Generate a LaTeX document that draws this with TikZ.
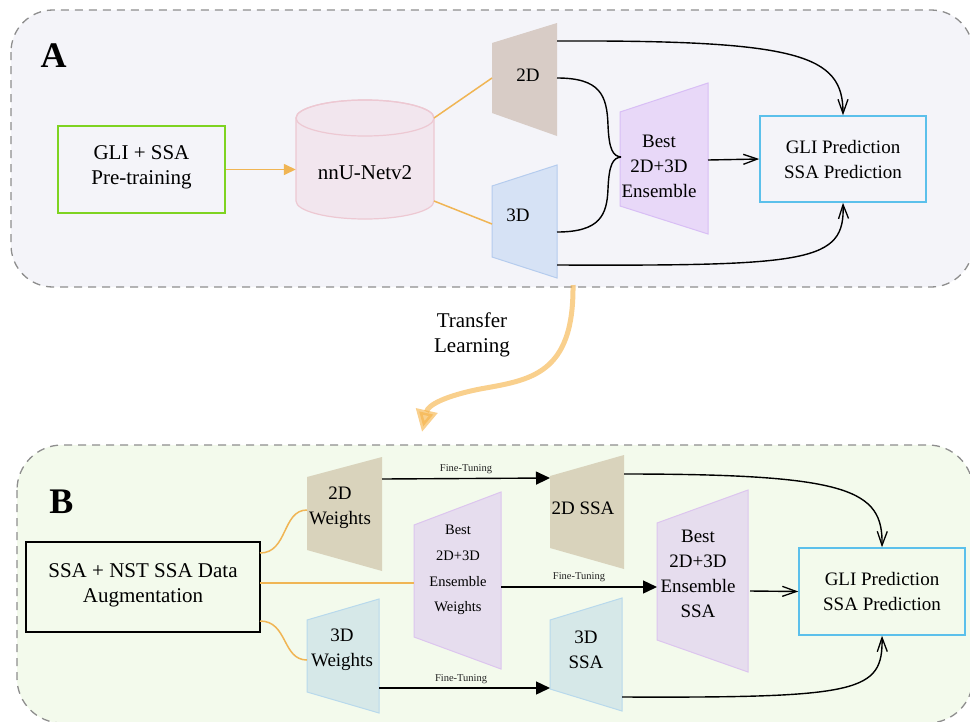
\documentclass[tikz,border=0pt]{standalone}
\usepackage{fontspec}
\setmainfont{Liberation Serif}
\usetikzlibrary{arrows.meta}
\definecolor{panA}{HTML}{F4F4F9}
\definecolor{panB}{HTML}{F3FAEC}
\definecolor{dashgrey}{HTML}{8E8E8E}
\definecolor{greenb}{HTML}{7ED321}
\definecolor{predb}{HTML}{5BC0EB}
\definecolor{orangel}{HTML}{F0B554}
\definecolor{cylf}{HTML}{F2E6EE}
\definecolor{cyld}{HTML}{EDC8D2}
\definecolor{atwof}{HTML}{D8CCC6}
\definecolor{athreef}{HTML}{D6E2F5}
\definecolor{athreed}{HTML}{B5CCEE}
\definecolor{aensf}{HTML}{E8D8F8}
\definecolor{aensd}{HTML}{D8BEF5}
\definecolor{btwof}{HTML}{D9D3BC}
\definecolor{bthreef}{HTML}{D6E8E8}
\definecolor{bthreed}{HTML}{B8D9EC}
\definecolor{bensf}{HTML}{E6DDEE}
\definecolor{bensd}{HTML}{DCC5EE}
\definecolor{transo}{HTML}{F5B041}
\tikzset{
  panel/.style={draw=dashgrey, line width=1.3pt, dash pattern=on 8pt off 6pt},
  lbl/.style={font=\fontsize{19}{25}\selectfont, align=center, text=black, inner sep=0pt},
  biglbl/.style={font=\fontsize{21}{25}\selectfont, align=center, text=black, inner sep=0pt},
  smalllbl/.style={font=\fontsize{10.5}{12}\selectfont, text=black!85, inner sep=0pt},
  enslbl/.style={font=\fontsize{14.5}{25.7}\selectfont, align=center, text=black, inner sep=0pt},
  panellbl/.style={font=\fontsize{36}{40}\selectfont\bfseries, inner sep=0pt},
  conn/.style={draw=black, line width=1.4pt, -{Straight Barb[length=14pt,width=10pt,line width=1.3pt]}},
  ftconn/.style={draw=black, line width=1.4pt, -{Triangle[length=14pt,width=13pt]}},
  brace/.style={draw=black, line width=1.4pt},
  orng/.style={draw=orangel, line width=1.5pt},
}
\begin{document}
\begin{tikzpicture}[x=1pt,y=-1pt]
\useasboundingbox (0,0) rectangle (970,721);
% panels
\path[panel, fill=panA, rounded corners=42pt] (11,10) rectangle (973,287);
\path[panel, fill=panB, rounded corners=45pt] (17,445) rectangle (973,723);
\node[panellbl] (la) at (53.5,56) {A};
\node[panellbl] (lb) at (61.5,501.5) {B};

% ---------- Panel A ----------
\node[draw=greenb, line width=1.5pt, minimum width=167pt, minimum height=87pt, inner sep=0pt] (gli) at (141.5,169.5) {};
\node[biglbl] (glit) at (141.5,167.5) {GLI + SSA\\Pre-training};

% cylinder
\path[fill=cylf, draw=cyld, line width=1.2pt] (296,118) -- (296,201) arc[start angle=180, end angle=0, x radius=69, y radius=18] -- (434,118) arc[start angle=0, end angle=-180, x radius=69, y radius=18] -- cycle;
\draw[cyld, line width=1.2pt] (365,118) ellipse[x radius=69, y radius=18];
\node[minimum width=138pt, minimum height=119pt, inner sep=0pt] (cyl) at (365,159.5) {};
\node[biglbl] (cylt) at (365,173) {nnU-Netv2};

% 2D / 3D / ensemble trapezoids (A)
\path[fill=atwof] (492,43) -- (557,23) -- (557,136) -- (492,113) -- cycle;
\node[lbl] (a2d) at (528,75) {2D};
\path[fill=athreef, draw=athreed, line width=1pt] (492,186) -- (557,165) -- (557,278) -- (492,257) -- cycle;
\node[lbl] (a3d) at (518,215) {3D};
\path[fill=aensf, draw=aensd, line width=1pt] (620,112) -- (708,83) -- (708,234) -- (620,206) -- cycle;
\node[lbl] (aens) at (659,166) {Best\\2D+3D\\Ensemble};

\node[draw=predb, line width=1.5pt, minimum width=166pt, minimum height=86pt, inner sep=0pt] (apred) at (843,159) {};
\node[lbl] (apredt) at (843,159.5) {GLI Prediction\\SSA Prediction};

\coordinate (cylne) at (434,118);
\coordinate (cylse) at (434,201);
\coordinate (a2din) at (492,78);
\coordinate (a3din) at (492,224);
\coordinate (a2dtop) at (557,41);
\coordinate (a2dmid) at (557,78);
\coordinate (a3dmid) at (557,232);
\coordinate (a3dbot) at (557,265);
\coordinate (aensin) at (621,157);
\coordinate (aensout) at (708,160);

\draw[orng, -{Triangle[length=12pt,width=11pt]}] (gli.east) -- (gli.east -| cyl.west);
\draw[orng] (cylne) -- (a2din);
\draw[orng] (cylse) -- (a3din);

\draw[conn] (a2dtop) .. controls (800,40) and (843,55) .. (apred.north);
\draw[conn] (a3dbot) .. controls (810,266) and (845,262) .. (apred.south);
\draw[brace] (a2dmid) .. controls (600,78) and (607,95) .. (608,125) .. controls (609,150) and (613,156) .. (aensin);
\draw[brace] (a3dmid) .. controls (600,232) and (607,215) .. (608,189) .. controls (609,164) and (613,158) .. (aensin);
\draw[conn] (aensout) -- (apred.west);

% transfer learning
\node[biglbl] (tl) at (472,335) {Transfer\\Learning};
\coordinate (tlstart) at (573,285);
\coordinate (tlend) at (422,432);
\draw[draw=transo, opacity=0.6, line width=5pt, -{Triangle[length=22pt,width=21pt]}]
  (tlstart) .. controls (574,375) and (530,380) .. (480,389) .. controls (445,396) and (428,405) .. (tlend);

% ---------- Panel B ----------
\node[draw=black, line width=1.5pt, minimum width=234pt, minimum height=90pt, inner sep=0pt] (ssa) at (143,587) {};
\node[biglbl] (ssat) at (143,585) {SSA + NST SSA Data\\Augmentation};

\path[fill=btwof] (307,477) -- (382,457) -- (382,571) -- (307,550) -- cycle;
\node[lbl] (b2dw) at (340,508) {2D\\Weights};
\path[fill=bthreef, draw=bthreed, line width=1pt] (307,620) -- (379,599) -- (379,713) -- (307,692) -- cycle;
\node[lbl] (b3dw) at (342,650) {3D\\Weights};
\path[fill=bensf, draw=bensd, line width=1pt] (414,525) -- (501,492) -- (501,669) -- (414,637) -- cycle;
\node[enslbl] (bensw) at (458,570) {Best\\2D+3D\\Ensemble\\Weights};

\path[fill=btwof] (550,476) -- (624,455) -- (624,569) -- (550,548) -- cycle;
\node[lbl] (b2ds) at (583,508) {2D SSA};
\path[fill=bthreef, draw=bthreed, line width=1pt] (550,620) -- (622,598) -- (622,711) -- (550,689) -- cycle;
\node[lbl] (b3ds) at (586,650) {3D\\SSA};
\path[fill=bensf, draw=bensd, line width=1pt] (657,523) -- (748,490) -- (748,672) -- (657,640) -- cycle;
\node[lbl] (benss) at (698,573.5) {Best\\2D+3D\\Ensemble\\SSA};

\node[draw=predb, line width=1.5pt, minimum width=166pt, minimum height=87pt, inner sep=0pt] (bpred) at (882,591.5) {};
\node[lbl] (bpredt) at (882,591.5) {GLI Prediction\\SSA Prediction};

\coordinate (ssa1) at (260,553);
\coordinate (ssa2) at (260,583);
\coordinate (ssa3) at (260,621);
\coordinate (b2dwin) at (307,510);
\coordinate (b3dwin) at (307,660);
\coordinate (benswin) at (414,583);
\coordinate (b2dwout) at (382,479);
\coordinate (b3dwout) at (379,688);
\coordinate (benswout) at (501,587);
\coordinate (b2dsin) at (550,478);
\coordinate (b3dsin) at (550,688);
\coordinate (benssin) at (657,587);
\coordinate (b2dsout) at (624,474);
\coordinate (b3dsout) at (622,697);
\coordinate (benssout) at (750,591);

\draw[orng] (ssa1) .. controls (288,553) and (282,510) .. (b2dwin);
\draw[orng] (ssa2) -- (benswin);
\draw[orng] (ssa3) .. controls (288,621) and (282,660) .. (b3dwin);

\draw[ftconn] (b2dwout) -- (b2dsin) node[smalllbl, midway, above=4pt] (ft1) {Fine-Tuning};
\draw[ftconn] (benswout) -- (benssin) node[smalllbl, midway, above=5pt] (ft2) {Fine-Tuning};
\draw[ftconn] (b3dwout) -- (b3dsin) node[smalllbl, pos=0.48, above=4pt] (ft3) {Fine-Tuning};

\draw[conn] (b2dsout) .. controls (850,474) and (883,490) .. (bpred.north);
\draw[conn] (b3dsout) .. controls (860,698) and (883,692) .. (bpred.south);
\draw[conn] (benssout) -- (bpred.west);
\end{tikzpicture}
\end{document}
